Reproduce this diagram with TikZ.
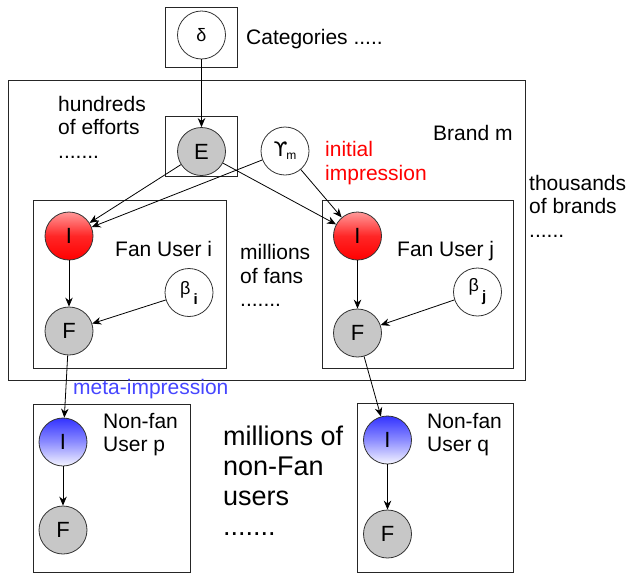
\documentclass[tikz,border=0pt]{standalone}
\usepackage{fontspec}
\setmainfont{Liberation Sans}
\newfontfamily\dvfont{DejaVu Sans}
\usetikzlibrary{arrows.meta}
\definecolor{metablue}{RGB}{70,70,255}
\begin{document}
\begin{tikzpicture}[x=1pt,y=-1pt,
  plate/.style={draw=black!85, line width=0.9pt, rectangle, inner sep=0pt, anchor=north west},
  var/.style={circle, draw=black!80, line width=0.8pt, minimum size=48pt, inner sep=0pt, font=\fontsize{22}{22}\selectfont},
  obs/.style={var, fill=black!22},
  redv/.style={var, top color=red!40, bottom color=red, middle color=red!85},
  bluev/.style={var, top color=blue!80, bottom color=blue!4, middle color=blue!45},
  txt/.style={anchor=north west, inner sep=0pt, align=left, font=\fontsize{21}{23.5}\selectfont},
  arr/.style={-{Stealth[length=9pt,width=7.5pt]}, line width=0.8pt}]
\useasboundingbox (0,0) rectangle (628,573);

% plates
\node[plate, minimum width=72pt, minimum height=60pt] (pcat) at (165,7) {};
\node[plate, minimum width=517pt, minimum height=300pt] (pbrand) at (8,80) {};
\node[plate, minimum width=72pt, minimum height=60pt] (peff) at (165,116) {};
\node[plate, minimum width=193pt, minimum height=168pt] (pfi) at (33,200) {};
\node[plate, minimum width=191pt, minimum height=168pt] (pfj) at (322,200) {};
\node[plate, minimum width=157pt, minimum height=168pt] (pnp) at (33,404) {};
\node[plate, minimum width=156pt, minimum height=169pt] (pnq) at (357,403) {};

% variables
\node[var, font=\fontsize{18}{18}\selectfont] (delta) at (201.5,35) {δ};
\node[obs] (E) at (201.5,151.5) {E};
\node[var] (gam) at (285,151) {\raisebox{0pt}{\dvfont\fontsize{20}{20}\selectfont ϒ}\hspace{-1pt}\raisebox{-3pt}{\fontsize{12}{12}\selectfont m}};
\node[redv] (Ii) at (69,236) {I};
\node[obs] (Fi) at (69,331) {F};
\node[var] (bi) at (189,292.5) {\raisebox{4pt}{\fontsize{18}{18}\selectfont β}\hspace{3pt}\raisebox{-6pt}{\fontsize{15}{15}\selectfont\bfseries i}};
\node[redv] (Ij) at (357.5,236) {I};
\node[obs] (Fj) at (357.5,333) {F};
\node[var] (bj) at (477.5,292) {\raisebox{4pt}{\fontsize{18}{18}\selectfont β}\hspace{3pt}\raisebox{-6pt}{\fontsize{15}{15}\selectfont\bfseries j}};
\node[bluev] (Ip) at (63,442) {I};
\node[obs] (Fp) at (63,530) {F};
\node[bluev] (Iq) at (387.5,440) {I};
\node[obs] (Fq) at (387.5,534) {F};

% texts
\node[txt] (tcat) at (246,29) {Categories .....};
\node[txt] (teff) at (58,96) {hundreds\\of efforts\\.......};
\node[txt] (tbrand) at (433,125) {Brand m};
\node[txt, text=red] (tinit) at (325,141.5) {initial\\impression};
\node[txt] (tthou) at (529,175) {thousands\\of brands\\......};
\node[txt] (tfi) at (115,241.5) {Fan User i};
\node[txt] (tfans) at (240,244.5) {millions\\of fans\\.......};
\node[txt] (tfj) at (397,241.5) {Fan User j};
\node[anchor=base west, inner sep=0pt, text=metablue, font=\fontsize{21}{23.5}\selectfont] (tmeta) at (73,394) {meta-impression};
\node[txt] (tnp) at (103,413) {Non-fan\\User p};
\node[txt] (tnq) at (427,413) {Non-fan\\User q};
\node[txt, font=\fontsize{27}{30}\selectfont] (tnon) at (223,426) {millions of\\non-Fan\\users\\.......};

% edges
\draw[arr] (delta) -- (E);
\draw[arr] (E) -- (Ii);
\draw[arr] (gam) -- (Ii);
\draw[arr] (E) -- (Ij);
\draw[arr] (gam) -- (Ij);
\draw[arr] (Ii) -- (Fi);
\draw[arr] (bi) -- (Fi);
\draw[arr] (Ij) -- (Fj);
\draw[arr] (bj) -- (Fj);
\draw[arr] (Fi) -- (Ip);
\draw[arr] (Fj) -- (Iq);
\draw[arr] (Ip) -- (Fp);
\draw[arr] (Iq) -- (Fq);
\end{tikzpicture}
\end{document}
